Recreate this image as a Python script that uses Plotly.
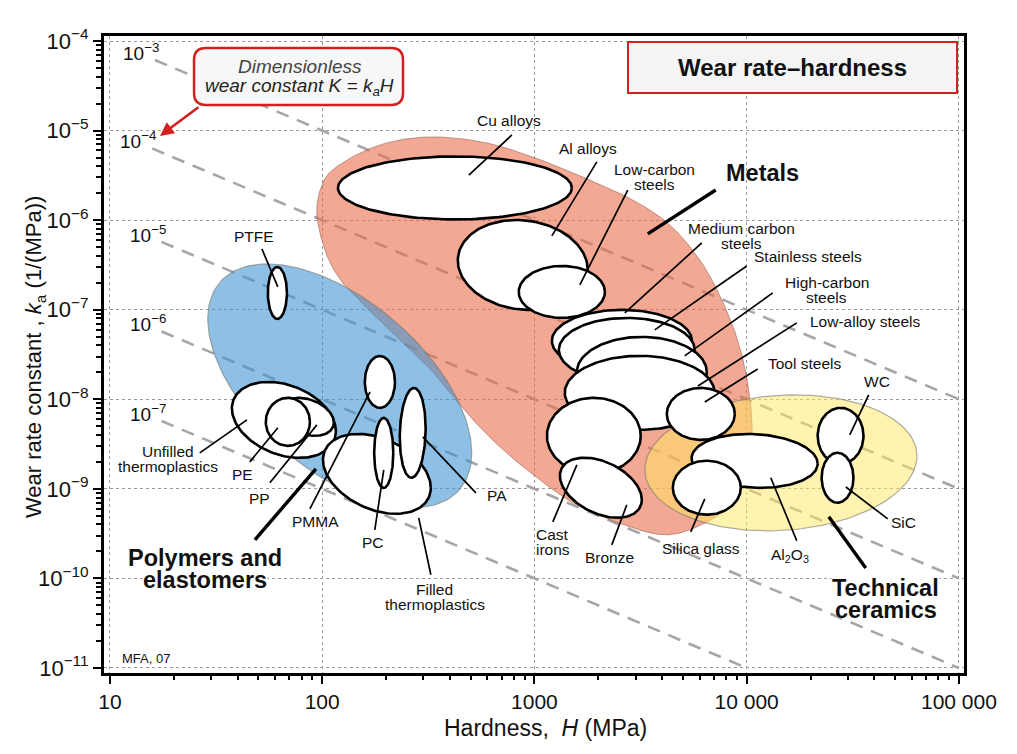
import numpy as np
import plotly.graph_objects as go

FONT = "Liberation Sans, Arial, Helvetica, sans-serif"

# ---------------- data ----------------
# material bubbles (drawing order): centre hardness H (MPa), centre wear-rate constant k (1/MPa),
# half-extent in decades along H and k, and tilt (correlation) of the bubble
bubble_names = ["Unfilled thermoplastics", "PP", "PE", "PTFE", "PMMA", "Filled thermoplastics", "PC", "PA",
                "Cu alloys", "Al alloys", "Low-carbon steels", "Medium carbon steels", "Stainless steels",
                "High-carbon steels", "Low-alloy steels", "Cast irons", "Bronze",
                "Al2O3", "Silica glass", "WC", "SiC", "Tool steels"]
bubble_H = [66.0, 84.7, 68.9, 61.5, 187, 181, 195, 267,
            422, 881, 1346, 2583, 2723, 3206, 3133, 1905, 2056,
            10900, 6490, 27700, 26800, 6080]
bubble_k = [5.89e-9, 6.37e-9, 5.6e-9, 1.54e-7, 1.56e-8, 1.47e-9, 2.52e-9, 4.22e-9,
            2.29e-6, 3.16e-7, 1.58e-7, 4.49e-8, 3.56e-8, 2.02e-8, 1.18e-8, 3.91e-9, 1.03e-9,
            2.05e-9, 1.03e-9, 3.91e-9, 1.33e-9, 6.87e-9]
bubble_dH = [0.245, 0.127, 0.104, 0.045, 0.071, 0.254, 0.045, 0.061,
             0.551, 0.306, 0.203, 0.330, 0.320, 0.306, 0.353, 0.221, 0.193,
             0.297, 0.160, 0.108, 0.075, 0.160]
bubble_dk = [0.424, 0.212, 0.268, 0.290, 0.290, 0.446, 0.391, 0.502,
             0.352, 0.502, 0.290, 0.346, 0.357, 0.391, 0.413, 0.424, 0.335,
             0.301, 0.301, 0.3125, 0.279, 0.290]
bubble_tilt = [-0.3, -0.3, 0.0, 0.0, 0.0, -0.35, 0.0, 0.1,
               0.0, -0.1, 0.0, 0.0, 0.0, 0.0, 0.0, 0.0, -0.4,
               -0.1, 0.0, 0.0, 0.0, 0.0]

# family envelopes drawn as ellipses (polymers, ceramics)
env_names = ["Polymers and elastomers", "Technical ceramics"]
env_H = [121, 14500]
env_k = [1.41e-8, 1.95e-9]
env_dH = [0.622, 0.641]
env_dk = [1.362, 0.759]
env_tilt = [-0.55, 0.1]
env_colors = ["rgba(60,147,210,0.58)", "rgba(255,231,95,0.5)"]

# metals envelope outline
metals_env_H = [94.4, 99.7, 115, 162, 232, 358, 597, 982, 1690, 2907, 4345, 6012, 7640, 9270, 10340,
                10570, 9790, 7890, 5695, 4110, 2811, 1637, 1060, 687, 480, 332, 232, 162, 125, 105]
metals_env_k = [1.14e-6, 2.47e-6, 3.83e-6, 6.07e-6, 7.85e-6, 8.48e-6, 7.28e-6, 5.07e-6, 3.03e-6, 1.68e-6,
                8.83e-7, 3.6e-7, 1.29e-7, 3.85e-8, 1.06e-8, 3.52e-9, 1.26e-9, 5.83e-10, 3.67e-10, 3.07e-10,
                3.77e-10, 6.3e-10, 1.26e-9, 2.94e-9, 7.05e-9, 2.02e-8, 4.60e-8, 1.05e-7, 1.99e-7, 4.09e-7]

# guide lines of constant dimensionless wear constant K = k*H
K_values = [1e-3, 1e-4, 1e-5, 1e-6, 1e-7]
K_exponents = [3, 4, 5, 6, 7]
K_start_H = [16.3, 15.8, 17.5, 17.5, 17.5]
H_min, H_max, k_min = 10, 1e5, 1e-11

# labels: text, label position, leader start, leader end
label_text = ["Cu alloys", "Al alloys", "Low-carbon<br>steels", "Medium carbon<br>steels", "Stainless steels",
              "High-carbon<br>steels", "Low-alloy steels", "Tool steels", "Cast<br>irons", "Bronze",
              "Silica glass", "Al<sub>2</sub>O<sub>3</sub>", "SiC", "WC", "PTFE", "Unfilled<br>thermoplastics",
              "PE", "PP", "PMMA", "PC", "Filled<br>thermoplastics", "PA"]
label_H = [757, 1784, 3690, 9480, 19410, 23850, 36390, 18790, 1221, 2265,
           6080, 15960, 54950, 41000, 47.6, 18.7, 42.3, 50.9, 93.4, 173, 340, 665]
label_k = [1.28e-5, 6.23e-6, 3.03e-6, 6.67e-7, 3.88e-7, 1.66e-7, 7.31e-8, 2.48e-8, 2.56e-10, 1.70e-10,
           2.14e-10, 1.79e-10, 4.18e-10, 1.60e-8, 6.49e-7, 2.16e-9, 1.43e-9, 7.73e-10, 4.28e-10, 2.50e-10,
           6.24e-11, 8.35e-10]
leader_H0 = [783, 1968, 2753, 6145, 10010, 13270, 17220, 11270, 1221, 2315,
             5453, 17220, 46190, 37580, 52.0, 26.5, 45.6, 56.7, 87.5, 177, 325, 530]
leader_k0 = [8.93e-6, 4.47e-6, 2.17e-6, 5.57e-7, 3.08e-7, 1.54e-7, 7.13e-8, 2.18e-8, 4.28e-10, 2.37e-10,
             3.31e-10, 2.63e-10, 4.62e-10, 1.12e-8, 4.77e-7, 2.52e-9, 2.00e-9, 1.17e-9, 5.98e-10, 3.48e-10,
             1.10e-10, 9.02e-10]
leader_H1 = [491, 1208, 1637, 2667, 3690, 5105, 5890, 6347, 1585, 2723,
             6347, 12990, 29310, 30600, 61.8, 44.2, 61.8, 94.4, 168, 195, 285, 298]
leader_k1 = [3.19e-6, 6.67e-7, 1.89e-7, 9.21e-8, 5.95e-8, 3.05e-8, 1.41e-8, 9.34e-9, 1.85e-9, 6.63e-10,
             7.73e-10, 1.33e-9, 1.05e-9, 4.01e-9, 1.80e-7, 5.89e-9, 4.80e-9, 5.18e-9, 1.21e-8, 1.63e-9,
             4.74e-10, 3.81e-9]

group_text = ["Metals", "Polymers and<br>elastomers", "Technical<br>ceramics"]
group_bg_line = [None, 1, 0]   # which line gets a white background (hides the grid)
group_H = [11900, 28.0, 45190]
group_k = [3.36e-6, 1.28e-10, 5.91e-11]
group_H0 = [7145, 48.2, 36390]
group_k0 = [2.17e-6, 2.70e-10, 1.31e-10]
group_H1 = [3420, 93.4, 24380]
group_k1 = [7.02e-7, 1.67e-9, 4.87e-10]

x_tickvals = [10, 100, 1000, 10000, 100000]
x_ticktext = ["10", "100", "1000", "10 000", "100 000"]
y_tickvals = [1e-4, 1e-5, 1e-6, 1e-7, 1e-8, 1e-9, 1e-10, 1e-11]
y_ticktext = ["10<sup>\u2212%d</sup>" % n for n in range(4, 12)]


# ---------------- helpers ----------------
def ellipse(h, k, dh, dk, rho, n=160):
    t = np.linspace(0, 2 * np.pi, n)
    lx = np.log10(h) + dh * np.cos(t)
    ly = np.log10(k) + dk * (rho * np.cos(t) + np.sqrt(1 - rho ** 2) * np.sin(t))
    return 10 ** lx, 10 ** ly


def closed_spline(hs, ks, m=14):
    P = np.column_stack([np.log10(hs), np.log10(ks)])
    n = len(P)
    out = []
    for i in range(n):
        p0, p1, p2, p3 = P[(i - 1) % n], P[i], P[(i + 1) % n], P[(i + 2) % n]
        for t in np.linspace(0, 1, m, endpoint=False):
            out.append(0.5 * (2 * p1 + (-p0 + p2) * t + (2 * p0 - 5 * p1 + 4 * p2 - p3) * t * t
                              + (-p0 + 3 * p1 - 3 * p2 + p3) * t ** 3))
    out.append(out[0])
    out = np.array(out)
    return 10 ** out[:, 0], 10 ** out[:, 1]


fig = go.Figure()

# constant-K guide lines
for K, H0 in zip(K_values, K_start_H):
    H1 = min(H_max, K / k_min)
    fig.add_trace(go.Scatter(x=[H0, H1], y=[K / H0, K / H1], mode="lines",
                             line=dict(color="#a6a6a6", width=2.6, dash="13px,9px"),
                             hoverinfo="skip", showlegend=False))

# metals envelope
mx, my = closed_spline(metals_env_H, metals_env_k)
fig.add_trace(go.Scatter(x=mx, y=my, mode="lines", fill="toself",
                         fillcolor="rgba(233,105,67,0.58)",
                         line=dict(color="rgba(150,100,90,0.6)", width=1),
                         hoverinfo="skip", showlegend=False))
# polymer and ceramic envelopes
for h, k, dh, dk, r, c in zip(env_H, env_k, env_dH, env_dk, env_tilt, env_colors):
    ex, ey = ellipse(h, k, dh, dk, r)
    fig.add_trace(go.Scatter(x=ex, y=ey, mode="lines", fill="toself", fillcolor=c,
                             line=dict(color="rgba(120,120,110,0.6)", width=1.2),
                             hoverinfo="skip", showlegend=False))

# bubbles
for h, k, dh, dk, r in zip(bubble_H, bubble_k, bubble_dH, bubble_dk, bubble_tilt):
    ex, ey = ellipse(h, k, dh, dk, r)
    fig.add_trace(go.Scatter(x=ex, y=ey, mode="lines", fill="toself", fillcolor="white",
                             line=dict(color="black", width=2.6),
                             hoverinfo="skip", showlegend=False))

# leader lines
for a, b, c, d in zip(leader_H0, leader_k0, leader_H1, leader_k1):
    fig.add_trace(go.Scatter(x=[a, c], y=[b, d], mode="lines", line=dict(color="black", width=1.7),
                             hoverinfo="skip", showlegend=False))
for a, b, c, d in zip(group_H0, group_k0, group_H1, group_k1):
    fig.add_trace(go.Scatter(x=[a, c], y=[b, d], mode="lines", line=dict(color="black", width=3.4),
                             hoverinfo="skip", showlegend=False))

annotations = []


def add_label(text, h, k, size, bold=False, bg_line=None):
    lines = text.split("<br>")
    n = len(lines)
    sp = 0.95 * size
    order = list(range(n))
    if bg_line is not None:
        order.remove(bg_line)
        order = [bg_line] + order
    for i in order:
        ln = lines[i]
        t = "<b>%s</b>" % ln if bold else ln
        annotations.append(dict(x=np.log10(h), y=np.log10(k), xref="x", yref="y", text=t,
                                showarrow=False, xanchor="center", yanchor="middle",
                                yshift=((n - 1) / 2 - i) * sp, borderpad=0,
                                font=dict(family=FONT, size=size, color="#111"),
                                bgcolor="white" if i == bg_line else None))


for t, h, k in zip(label_text, label_H, label_k):
    add_label(t, h, k, 15.5)
for t, h, k, b in zip(group_text, group_H, group_k, group_bg_line):
    add_label(t, h, k, 23.5, bold=True, bg_line=b)

# K labels
for K, H0, e in zip(K_values, K_start_H, K_exponents):
    annotations.append(dict(x=np.log10(H0), y=np.log10(K / H0), xref="x", yref="y",
                            text="10<sup>\u2212%d</sup>" % e, showarrow=False,
                            xanchor="right", yanchor="middle", xshift=6, yshift=8,
                            font=dict(family=FONT, size=19, color="#111")))

# dimensionless box text and arrow
annotations.append(dict(x=0.2279, y=0.9529, xref="paper", yref="paper", showarrow=False,
                        xanchor="center", yanchor="middle",
                        text="<i>Dimensionless</i>", font=dict(family=FONT, size=19, color="#444")))
annotations.append(dict(x=0.2279, y=0.9199, xref="paper", yref="paper", showarrow=False,
                        xanchor="center", yanchor="middle",
                        text="<i>wear constant K = k</i><sub><i>a</i></sub><i>H</i>",
                        font=dict(family=FONT, size=19, color="#222")))
annotations.append(dict(x=np.log10(17.2), y=np.log10(8.7e-6), xref="x", yref="y", text="",
                        showarrow=True, ax=40, ay=-30, arrowhead=2, arrowsize=1.1, arrowwidth=2.5,
                        arrowcolor="#d21f1f"))
# title box text
annotations.append(dict(x=0.8006, y=0.9505, xref="paper", yref="paper", showarrow=False,
                        xanchor="center", yanchor="middle",
                        text="<b>Wear rate\u2013hardness</b>", font=dict(family=FONT, size=24, color="#111")))
annotations.append(dict(x=0.0488, y=0.0235, xref="paper", yref="paper", showarrow=False,
                        xanchor="center", yanchor="middle",
                        text="MFA, 07", font=dict(family=FONT, size=13, color="#111")))
# axis titles
annotations.append(dict(x=0.5128, y=-0.0863, xref="paper", yref="paper", showarrow=False,
                        xanchor="center", yanchor="middle",
                        text="Hardness,&nbsp; <i>H</i> (MPa)", font=dict(family=FONT, size=23, color="#111")))
annotations.append(dict(x=-0.0802, y=0.496, xref="paper", yref="paper", showarrow=False,
                        xanchor="center", yanchor="middle", textangle=-90,
                        text="Wear rate constant , <i>k</i><sub>a</sub> (1/(MPa))",
                        font=dict(family=FONT, size=22, color="#111")))

# boxes
x0, x1, y0, y1 = 0.1047, 0.3477, 0.8917, 0.9812
rx, ry = 0.0140, 0.0188
rpath = (f"M {x0 + rx},{y1} L {x1 - rx},{y1} Q {x1},{y1} {x1},{y1 - ry} L {x1},{y0 + ry} "
         f"Q {x1},{y0} {x1 - rx},{y0} L {x0 + rx},{y0} Q {x0},{y0} {x0},{y0 + ry} "
         f"L {x0},{y1 - ry} Q {x0},{y1} {x0 + rx},{y1} Z")
shapes = [
    dict(type="path", path=rpath, xref="paper", yref="paper", layer="above",
         fillcolor="#f7f7f7", line=dict(color="#d21f1f", width=2.5)),
    dict(type="rect", x0=0.6093, x1=0.9919, y0=0.9105, y1=0.9906, xref="paper", yref="paper",
         layer="above", fillcolor="#f4f4f4", line=dict(color="#d21f1f", width=2)),
]

x_minor = [m * 10 ** e for e in range(1, 5) for m in range(2, 10)]
y_minor = [m * 10.0 ** e for e in range(-11, -4) for m in range(2, 10)]

fig.update_layout(
    width=1017, height=754,
    margin=dict(l=104, r=53, t=36, b=81),
    paper_bgcolor="white", plot_bgcolor="white",
    font=dict(family=FONT, color="#111"),
    showlegend=False, hovermode=False,
    annotations=annotations, shapes=shapes,
    xaxis=dict(type="log", range=[0.972, 5.024], tickvals=x_tickvals, ticktext=x_ticktext,
               ticks="outside", ticklen=8, tickwidth=2, tickcolor="black",
               tickfont=dict(family=FONT, size=21, color="#111"),
               showline=True, linecolor="black", linewidth=3, mirror=True,
               showgrid=True, gridcolor="#9a9a9a", griddash="dot", gridwidth=1, zeroline=False,
               minor=dict(tickvals=x_minor, ticks="outside", ticklen=4, tickwidth=1.5,
                          tickcolor="black", showgrid=False)),
    yaxis=dict(type="log", range=[-11.056, -3.944], tickvals=y_tickvals, ticktext=y_ticktext,
               ticks="outside", ticklen=8, tickwidth=2, tickcolor="black",
               tickfont=dict(family=FONT, size=22, color="#111"),
               showline=True, linecolor="black", linewidth=3, mirror=True,
               showgrid=True, gridcolor="#9a9a9a", griddash="dot", gridwidth=1, zeroline=False,
               minor=dict(tickvals=y_minor, ticks="outside", ticklen=5, tickwidth=2,
                          tickcolor="black", showgrid=False)),
)

fig.write_html("out.html")
